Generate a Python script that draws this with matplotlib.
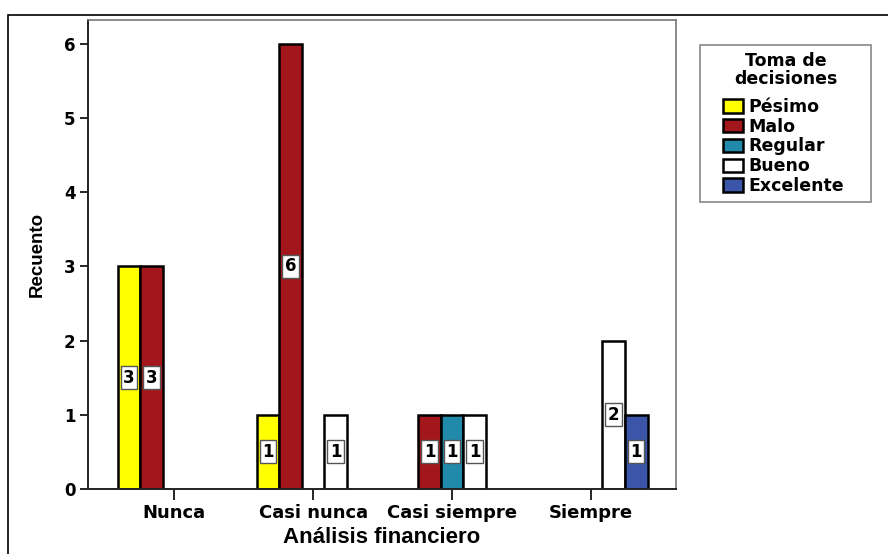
import matplotlib.pyplot as plt
from matplotlib.patches import Patch, Rectangle
import numpy as np

categories = ["Nunca", "Casi nunca", "Casi siempre", "Siempre"]
series_names = ["Pésimo", "Malo", "Regular", "Bueno", "Excelente"]
pesimo = [3, 1, 0, 0]
malo = [3, 6, 1, 0]
regular = [0, 0, 1, 0]
bueno = [0, 1, 1, 2]
excelente = [0, 0, 0, 1]
colors = ["#FFFF00", "#A3171C", "#2189AA", "#FFFFFF", "#3B55A8"]


def main():
    plt.rcParams["font.family"] = ["DejaVu Sans"]
    fig = plt.figure(figsize=(8.88, 5.54), dpi=100)
    ax = fig.add_axes([88 / 888, 1 - 489 / 554, (676 - 88) / 888, (489 - 20) / 554])

    series = [pesimo, malo, regular, bueno, excelente]
    x = np.arange(len(categories))
    width = 0.162

    for i, (vals, col) in enumerate(zip(series, colors)):
        for xi, v in zip(x, vals):
            if v == 0:
                continue
            pos = xi + (i - 2) * width
            ax.bar(pos, v, width=width, color=col, edgecolor="black",
                   linewidth=1.8, zorder=2)
            ax.text(pos, v / 2, str(v), ha="center", va="center",
                    fontsize=12, fontweight="bold", zorder=3,
                    bbox=dict(boxstyle="square,pad=0.15", fc="white",
                              ec="#555555", lw=1.0))

    ax.set_xlim(-0.62, 3.61)
    ax.set_ylim(0, 6.32)
    ax.set_yticks(range(0, 7))
    ax.set_xticks(x)
    ax.set_xticklabels(categories, fontsize=13, fontweight="bold")
    for lab in ax.get_yticklabels():
        lab.set_fontsize(12)
        lab.set_fontweight("bold")
    ax.tick_params(axis="y", length=6, width=1.2, pad=3)
    ax.tick_params(axis="x", length=8, width=1.2, pad=3)

    for side in ["top", "right"]:
        ax.spines[side].set_color("#777777")
        ax.spines[side].set_linewidth(1.2)
    for side in ["left", "bottom"]:
        ax.spines[side].set_color("#222222")
        ax.spines[side].set_linewidth(1.4)

    ax.set_ylabel("Recuento", fontsize=13.5, fontweight="bold",
                  family="Liberation Sans")
    ax.yaxis.set_label_coords(-(88 - 46) / 588, 0.5)
    ax.set_xlabel("Análisis financiero", fontsize=16, fontweight="bold",
                  family="Liberation Sans")
    ax.xaxis.set_label_coords(0.5, -(527 - 489) / 469)

    # legend: frame and title drawn separately to get SPSS-like padding
    fig.add_artist(Rectangle((700 / 888, 1 - 202 / 554), 171 / 888, 157 / 554,
                             transform=fig.transFigure, fill=False,
                             edgecolor="#888888", linewidth=1.2))
    fig.text(786 / 888, 1 - 70 / 554, "Toma de\ndecisiones", ha="center",
             va="center", fontsize=12.5, fontweight="bold", linespacing=1.0)
    handles = [Patch(facecolor=c, edgecolor="black", linewidth=1.8)
               for c in colors]
    fig.legend(handles, series_names, loc="upper left",
               bbox_to_anchor=(723 / 888, 1 - 98 / 554), frameon=False,
               prop={"weight": "bold", "size": 12.5},
               handlelength=1.15, handleheight=0.8, handletextpad=0.3,
               labelspacing=0.1, borderpad=0, borderaxespad=0)

    # outer frame of the chart
    fig.add_artist(Rectangle((8 / 888, -0.05), 1.1, 1 - 15 / 554 + 0.05,
                             transform=fig.transFigure, fill=False,
                             edgecolor="black", linewidth=1.2))

    fig.savefig("out.png", dpi=100)


if __name__ == '__main__':
    main()
